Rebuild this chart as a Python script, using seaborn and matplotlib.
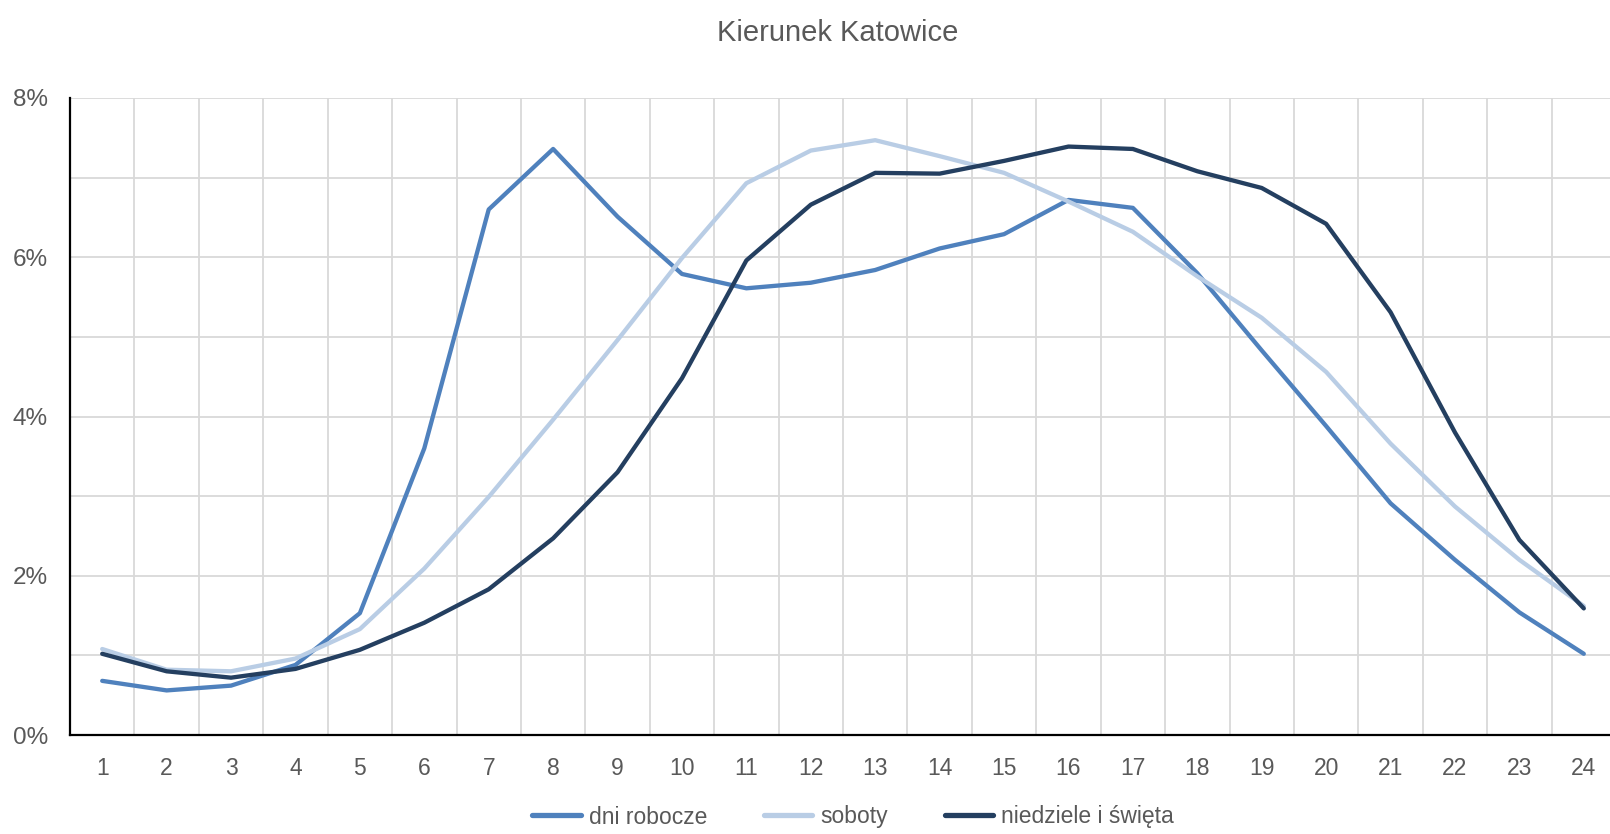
import seaborn as sns
import matplotlib.pyplot as plt
import numpy as np
import pandas as pd
from matplotlib.ticker import FixedLocator, FuncFormatter

# hours 1..24, share of daily traffic in %
godziny = list(range(1, 25))
dni_robocze = [0.68, 0.56, 0.62, 0.88, 1.53, 3.60, 6.60, 7.36, 6.51, 5.79, 5.61, 5.68,
               5.84, 6.11, 6.29, 6.72, 6.62, 5.80, 4.83, 3.88, 2.91, 2.20, 1.54, 1.02]
soboty = [1.08, 0.82, 0.80, 0.96, 1.33, 2.09, 2.99, 3.96, 4.96, 5.99, 6.93, 7.34,
          7.47, 7.27, 7.06, 6.70, 6.32, 5.76, 5.24, 4.56, 3.66, 2.87, 2.20, 1.62]
niedziele = [1.02, 0.80, 0.72, 0.83, 1.07, 1.41, 1.83, 2.47, 3.30, 4.48, 5.96, 6.66,
             7.06, 7.05, 7.21, 7.39, 7.36, 7.08, 6.87, 6.42, 5.31, 3.80, 2.45, 1.59]

serie = ['dni robocze', 'soboty', 'niedziele i święta']
kolory = ['#4F81BD', '#B9CDE5', '#243F60']

df = pd.DataFrame({
    'godzina': godziny * 3,
    'udzial': dni_robocze + soboty + niedziele,
    'seria': [serie[0]] * 24 + [serie[1]] * 24 + [serie[2]] * 24,
})

sns.set_style("white")
plt.rcParams['font.family'] = ['Liberation Sans', 'DejaVu Sans']

fig = plt.figure(figsize=(16.1, 8.34), dpi=100)
ax = fig.add_axes([70 / 1610, 99 / 834, 1546 / 1610, 637 / 834])

sns.lineplot(data=df, x='godzina', y='udzial', hue='seria', hue_order=serie,
             palette=kolory, linewidth=3.1, ax=ax, legend=False)

ax.set_xlim(0.5, 24.5)
ax.set_ylim(0, 8)
ax.set_xticks(godziny)
ax.xaxis.set_minor_locator(FixedLocator(np.arange(1.5, 24, 1)))
ax.set_yticks([0, 2, 4, 6, 8])
ax.yaxis.set_minor_locator(FixedLocator([1, 3, 5, 7]))
ax.yaxis.set_major_formatter(FuncFormatter(lambda v, p: f'{v:.0f}%'))

ax.grid(False)
ax.grid(True, which='minor', axis='x', color='#D9D9D9', linewidth=1.3)
ax.grid(True, which='both', axis='y', color='#D9D9D9', linewidth=1.3)
ax.set_axisbelow(True)

for s in ['top', 'right']:
    ax.spines[s].set_visible(False)
for s in ['left', 'bottom']:
    ax.spines[s].set_color('black')
    ax.spines[s].set_linewidth(1.6)

ax.tick_params(which='both', length=0, labelcolor='#595959')
ax.tick_params(axis='x', pad=16, labelsize=16.5)
ax.tick_params(axis='y', pad=16, labelsize=17.5)
ax.set_xlabel('')
ax.set_ylabel('')

fig.text(0.52, 1 - 33 / 834, 'Kierunek Katowice', ha='center', va='center',
         fontsize=21, color='#595959')

uchwyty = [plt.Line2D([0], [0], color=c, linewidth=3.8) for c in kolory]
leg = fig.legend(uchwyty, serie, loc='center', bbox_to_anchor=(0.53, 1 - 817 / 834),
                 ncol=3, frameon=False, fontsize=16.5, handlelength=2.1,
                 handletextpad=0.35, columnspacing=2.5)
for t in leg.get_texts():
    t.set_color('#595959')

fig.savefig('out.png', dpi=100)
